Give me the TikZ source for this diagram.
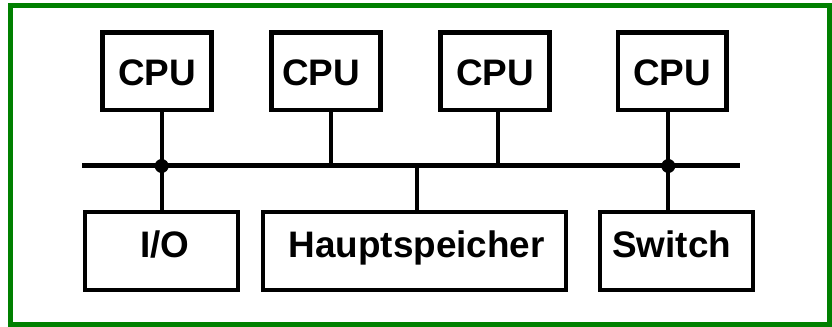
\documentclass[tikz,border=0pt]{standalone}
\usepackage{fontspec}
\setmainfont{Liberation Sans}
\definecolor{framegreen}{RGB}{0,128,0}
\begin{document}
\begin{tikzpicture}[x=0.02cm, y=-0.02cm,
  unitbox/.style={draw=black, line width=0.09cm, inner sep=0pt, outer sep=0pt, fill=white},
  cpubox/.style={unitbox, minimum width=2.18cm, minimum height=1.55cm},
  lowbox/.style={unitbox, minimum height=1.56cm},
  lbl/.style={anchor=base, inner sep=0pt, font=\fontsize{21pt}{24pt}\selectfont\bfseries},
  wire/.style={line width=0.08cm},
  busline/.style={line width=0.1cm},
  junction/.style={circle, fill=black, inner sep=0pt, minimum size=0.28cm}
]
\useasboundingbox (0,0) rectangle (832,327);
% outer frame
\draw[framegreen, line width=0.1cm] (10.5,5.5) rectangle (829.3,324.5);

% processors
\node[cpubox] (cpu1) at (157,71.25) {};
\node[cpubox] (cpu2) at (326,71.25) {};
\node[cpubox] (cpu3) at (495,71.25) {};
\node[cpubox] (cpu4) at (672.25,71.25) {};
\node[lbl] (t1) at (157,86) {CPU};
\node[lbl] (t2) at (321,86) {CPU};
\node[lbl] (t3) at (495,86) {CPU};
\node[lbl] (t4) at (672,86) {CPU};

% lower units
\node[lowbox, minimum width=3.06cm] (io) at (161.5,251) {};
\node[lowbox, minimum width=6.06cm] (mem) at (414.5,251) {};
\node[lowbox, minimum width=3.06cm] (sw) at (676.5,251) {};
\node[lbl] (tio) at (165,258) {I/O};
\node[lbl] (tmem) at (416.7,258) {Hauptspeicher};
\node[lbl] (tsw) at (671.7,258) {Switch};

% system bus
\coordinate (busL) at (82,166);
\coordinate (busR) at (740,166);
\draw[busline] (busL) -- (busR);

\coordinate (b1) at (161.7,166);
\coordinate (b2) at (330.7,166);
\coordinate (b3) at (498.3,166);
\coordinate (bm) at (416.7,166);
\coordinate (b4) at (668.3,166);

\draw[wire] (cpu1.south -| b1) -- (io.north -| b1);
\draw[wire] (cpu2.south -| b2) -- (b2);
\draw[wire] (cpu3.south -| b3) -- (b3);
\draw[wire] (cpu4.south -| b4) -- (sw.north -| b4);
\draw[wire] (bm) -- (mem.north -| bm);

\node[junction] (j1) at (b1) {};
\node[junction] (j4) at (b4) {};
\end{tikzpicture}
\end{document}
